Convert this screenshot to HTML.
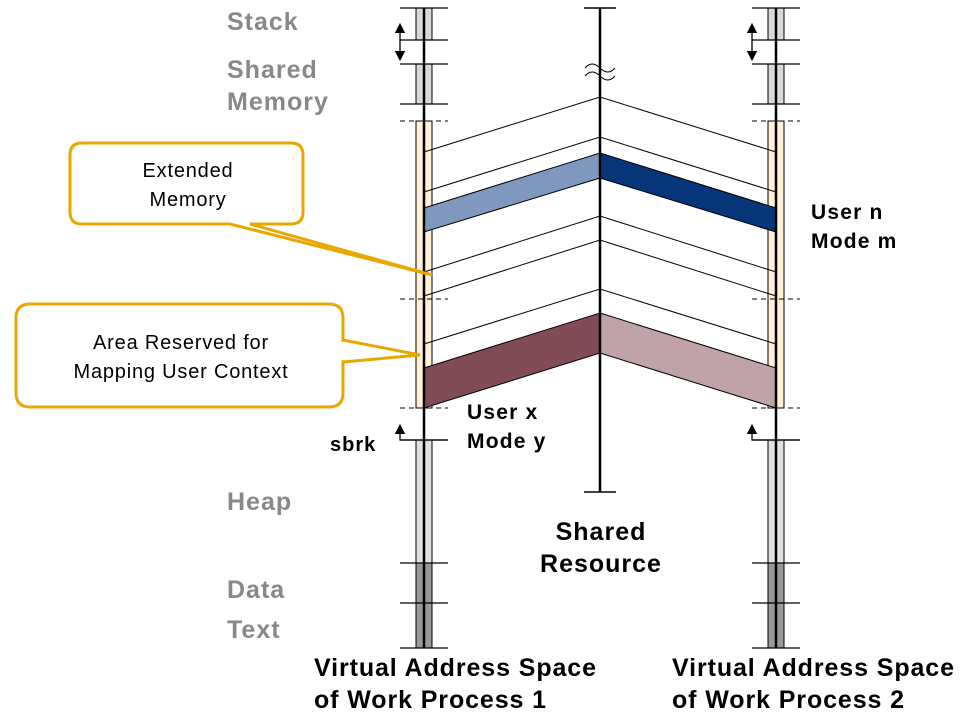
<!DOCTYPE html><html><head><style>body{margin:0;background:#fff}svg{display:block}text{font-family:"Liberation Sans",sans-serif;font-weight:bold}text.n{font-weight:normal}</style></head><body>
<svg width="960" height="720" viewBox="0 0 960 720">
<defs><marker id="ah" markerWidth="8" markerHeight="8" refX="4" refY="4" orient="auto"><path d="M0,0 L8,4 L0,8z" fill="#000"/></marker></defs>
<!-- columns -->
<g id="col">
<rect x="416" y="8" width="16" height="32" fill="#d9d9d9" stroke="#000"/>
<rect x="416" y="64" width="16" height="40" fill="#d9d9d9" stroke="#000"/>
<rect x="416" y="121" width="16" height="287" fill="#fff0d6" stroke="#000"/>
<rect x="416" y="440" width="16" height="123" fill="#e0e0e0" stroke="#000"/>
<rect x="416" y="563" width="16" height="85" fill="#999" stroke="#000"/>
<g stroke="#000" stroke-width="1.3">
<line x1="400" y1="8" x2="448" y2="8"/><line x1="400" y1="40" x2="448" y2="40"/>
<line x1="400" y1="64" x2="448" y2="64"/><line x1="400" y1="104" x2="448" y2="104"/>
<line x1="400" y1="440" x2="448" y2="440"/><line x1="400" y1="563" x2="448" y2="563"/>
<line x1="400" y1="603" x2="448" y2="603"/><line x1="400" y1="648" x2="448" y2="648"/>
<line x1="400" y1="40" x2="400" y2="28" marker-end="url(#ah)"/>
<line x1="400" y1="40" x2="400" y2="56" marker-end="url(#ah)"/>
<polyline points="448,440 400,440 400,429" fill="none" marker-end="url(#ah)"/>
</g>
<g stroke="#000" stroke-dasharray="5,4"><line x1="400" y1="121" x2="448" y2="121"/><line x1="400" y1="299" x2="448" y2="299"/><line x1="400" y1="408" x2="448" y2="408"/></g>
</g>
<use href="#col" x="352"/>
<!-- bands -->
<polygon points="424,208 600,153 600,178 424,232" fill="#7f98bd" stroke="#000" stroke-width="1"/>
<polygon points="600,153 776,208 776,232 600,178" fill="#06357a" stroke="#000" stroke-width="1"/>
<polygon points="424,368 600,313 600,353 424,408" fill="#824c57" stroke="#000" stroke-width="1"/>
<polygon points="600,313 776,368 776,408 600,353" fill="#c0a3a8" stroke="#000" stroke-width="1"/>
<g stroke="#000" stroke-width="1" fill="none">
<polyline points="424,152 600,97 776,152"/>
<polyline points="424,192 600,137 776,192"/>
<polyline points="424,272 600,216 776,272"/>
<polyline points="424,296 600,240 776,296"/>
<polyline points="424,344 600,289 776,344"/>
</g>
<g stroke="#000" stroke-width="2.5"><line x1="424" y1="8" x2="424" y2="648"/><line x1="776" y1="8" x2="776" y2="648"/></g>
<!-- center -->
<g stroke="#000" stroke-width="2.5"><line x1="600" y1="8" x2="600" y2="492"/><line x1="584" y1="8" x2="616" y2="8" stroke-width="1.5"/><line x1="584" y1="492" x2="616" y2="492" stroke-width="1.5"/></g>
<path d="M585,68 q7,-8 15,0 t15,0 M585,76 q7,-8 15,0 t15,0" stroke="#000" fill="#fff" stroke-width="1"/>
<!-- callouts -->
<path d="M82,143 H291 Q303,143 303,155 V212 Q303,224 291,224 H250 L432,275 L230,224 H82 Q70,224 70,212 V155 Q70,143 82,143Z" fill="#fff" stroke="#e8a800" stroke-width="3"/>
<path d="M30,304 H329 Q343,304 343,318 V393 Q343,407 329,407 H30 Q16,407 16,393 V365 L16,318 Q16,304 30,304Z" fill="#fff" stroke="#e8a800" stroke-width="3"/>
<path d="M343,340 L420,355 L343,362" fill="#fff" stroke="#e8a800" stroke-width="3"/>
<rect x="338" y="342" width="8" height="18" fill="#fff"/>
<g font-size="20" fill="#000" text-anchor="middle" letter-spacing="0.8">
<text class="n" x="188" y="177">Extended</text><text class="n" x="188" y="206">Memory</text>
<text class="n" x="181" y="349">Area Reserved for</text><text class="n" x="181" y="378">Mapping User Context</text>
</g>
<g font-size="25" fill="#888" letter-spacing="1">
<text x="227" y="30">Stack</text><text x="227" y="78">Shared</text><text x="227" y="110">Memory</text>
<text x="227" y="510">Heap</text><text x="227" y="598">Data</text><text x="227" y="638">Text</text>
</g>
<text x="330" y="451" font-size="20" letter-spacing="1">sbrk</text>
<g font-size="21" letter-spacing="1.2"><text x="467" y="419">User x</text><text x="467" y="448">Mode y</text>
<text x="811" y="219">User n</text><text x="811" y="248">Mode m</text></g>
<g font-size="25" text-anchor="middle" letter-spacing="1"><text x="601" y="540">Shared</text><text x="601" y="572">Resource</text></g>
<g font-size="25" letter-spacing="0.9"><text x="314" y="676">Virtual Address Space</text><text x="314" y="708">of Work Process 1</text>
<text x="672" y="676">Virtual Address Space</text><text x="672" y="708">of Work Process 2</text></g>
</svg></body></html>
